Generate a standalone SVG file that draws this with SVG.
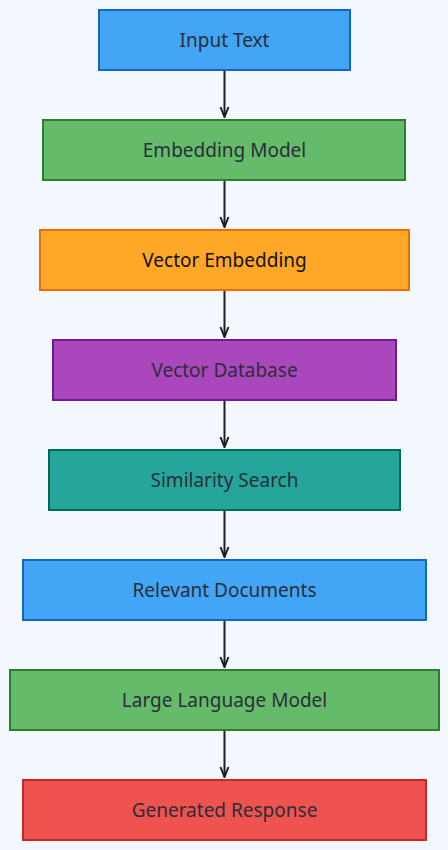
<svg xmlns="http://www.w3.org/2000/svg" width="448" height="850" viewBox="0 0 448 850">
<style>
.bg{fill:#f3f7fe}
.n rect{stroke-width:2}
.n text{font-family:"Noto Sans","Open Sans",sans-serif;font-size:19px;fill:#2b2d3a;text-anchor:middle;dominant-baseline:central}
.blue rect{fill:#42a5f5;stroke:#1565c0}
.green rect{fill:#66bb6a;stroke:#2e7d32}
.orange rect{fill:#ffa726;stroke:#ef6c00}
.orange text{fill:#111}
.purple rect{fill:#ab47bc;stroke:#6a1b9a}
.teal rect{fill:#26a69a;stroke:#00695c}
.red rect{fill:#ef5350;stroke:#c62828}
.e line{stroke:#1e1e1e;stroke-width:2;fill:none}
</style>
<defs>
<marker id="arr" viewBox="0 0 12 12" refX="11" refY="6" markerWidth="12" markerHeight="12" markerUnits="userSpaceOnUse" orient="auto">
<path d="M1,2 L11,6 L1,10" fill="none" stroke="#1e1e1e" stroke-width="2"/>
</marker>
</defs>
<rect class="bg" x="0" y="0" width="448" height="850"/>
<g id="connectors" class="e">
<line x1="224.5" y1="70" x2="224.5" y2="117" marker-end="url(#arr)"/>
<line x1="224.5" y1="180" x2="224.5" y2="227" marker-end="url(#arr)"/>
<line x1="224.5" y1="290" x2="224.5" y2="337" marker-end="url(#arr)"/>
<line x1="224.5" y1="400" x2="224.5" y2="447" marker-end="url(#arr)"/>
<line x1="224.5" y1="510" x2="224.5" y2="557" marker-end="url(#arr)"/>
<line x1="224.5" y1="620" x2="224.5" y2="667" marker-end="url(#arr)"/>
<line x1="224.5" y1="730" x2="224.5" y2="777" marker-end="url(#arr)"/>
</g>
<g id="input-text" class="n blue"><rect x="99" y="10" width="251" height="60"/><text x="224.5" y="40">Input Text</text></g>
<g id="embedding-model" class="n green"><rect x="43" y="120" width="362" height="60"/><text x="224.5" y="150">Embedding Model</text></g>
<g id="vector-embedding" class="n orange"><rect x="40" y="230" width="369" height="60"/><text x="224.5" y="260">Vector Embedding</text></g>
<g id="vector-database" class="n purple"><rect x="53" y="340" width="343" height="60"/><text x="224.5" y="370">Vector Database</text></g>
<g id="similarity-search" class="n teal"><rect x="49" y="450" width="351" height="60"/><text x="224.5" y="480">Similarity Search</text></g>
<g id="relevant-documents" class="n blue"><rect x="23" y="560" width="403" height="60"/><text x="224.5" y="590">Relevant Documents</text></g>
<g id="large-language-model" class="n green"><rect x="10" y="670" width="429" height="60"/><text x="224.5" y="700">Large Language Model</text></g>
<g id="generated-response" class="n red"><rect x="23" y="780" width="403" height="60"/><text x="224.5" y="810">Generated Response</text></g>
</svg>
